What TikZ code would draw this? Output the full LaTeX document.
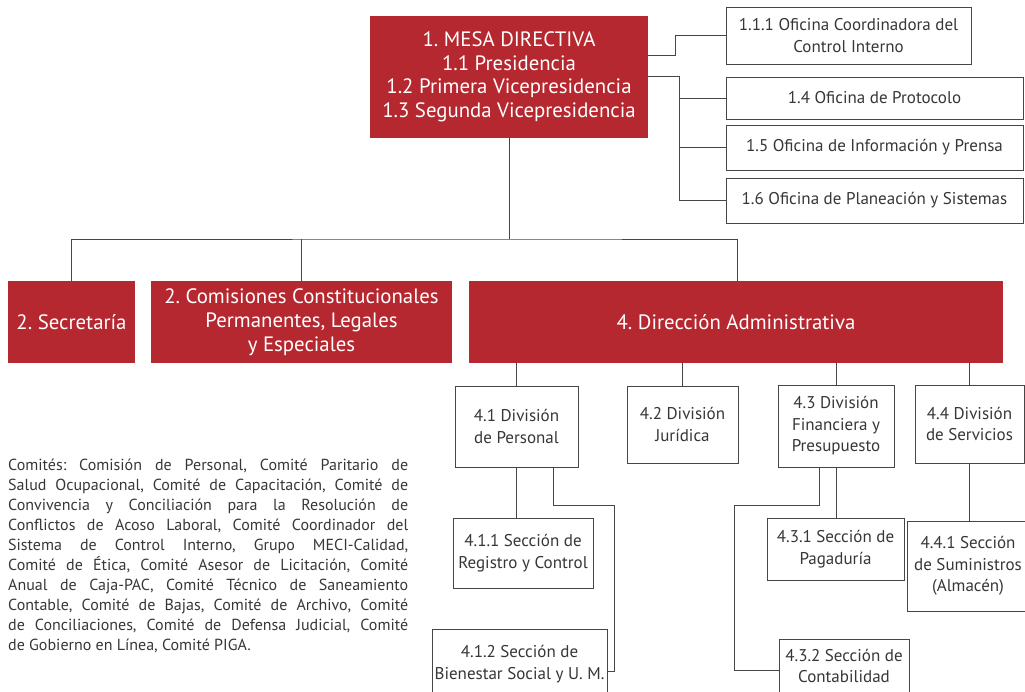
\documentclass[tikz,border=0pt]{standalone}
\usepackage{fontspec}
\setmainfont{PT Sans}
\usepackage{tikz}
\usetikzlibrary{positioning}

\definecolor{orgred}{RGB}{181,40,48}
\definecolor{linegray}{RGB}{70,70,70}
\definecolor{textgray}{RGB}{55,55,55}
\frenchspacing

\tikzset{
  redbox/.style={fill=orgred, text=white, inner sep=2pt, align=center,
    font=\fontsize{20.8}{24}\selectfont},
  whitebox/.style={draw=linegray, line width=0.9pt, fill=white, text=textgray,
    inner sep=2pt, align=center, font=\fontsize{17}{21.5}\selectfont},
  conn/.style={draw=linegray, line width=0.9pt},
  comites/.style={anchor=north west, inner sep=0pt, text width=400, align=justify,
    text=textgray, font=\fontsize{16}{20}\selectfont}
}

\begin{document}
\begin{tikzpicture}[x=1pt,y=-1pt]
\useasboundingbox (0,0) rectangle (1025,691);

% mesa directiva y oficinas
\node[redbox, minimum width=278, minimum height=122, font=\fontsize{20.8}{23.5}\selectfont] (mesa) at (509,77)
  {1. MESA DIRECTIVA\\1.1 Presidencia\\1.2 Primera Vicepresidencia\\1.3 Segunda Vicepresidencia};
\node[whitebox, minimum width=245, minimum height=57, font=\fontsize{17}{22}\selectfont] (ofcontrol) at (848.5,35.5)
  {1.1.1 Oficina Coordinadora del\\Control Interno};
\node[whitebox, minimum width=297, minimum height=42] (ofprot) at (874.5,98) {1.4 Oficina de Protocolo};
\node[whitebox, minimum width=297, minimum height=45] (ofinfo) at (874.5,147.5) {1.5 Oficina de Información y Prensa};
\node[whitebox, minimum width=297, minimum height=45] (ofplan) at (874.5,200.5) {1.6 Oficina de Planeación y Sistemas};

% segundo nivel
\node[redbox, minimum width=127, minimum height=82] (secret) at (71.5,322) {2. Secretaría};
\node[redbox, minimum width=301, minimum height=82] (comis) at (301.5,322)
  {2. Comisiones Constitucionales\\Permanentes, Legales\\y Especiales};
\node[redbox, minimum width=534, minimum height=82] (direcc) at (736,322) {4. Dirección Administrativa};

% divisiones
\node[whitebox, minimum width=123, minimum height=81] (divpers) at (516.5,426.5) {4.1 División\\de Personal};
\node[whitebox, minimum width=111, minimum height=77] (divjur) at (682.5,424.5) {4.2 División\\Jurídica};
\node[whitebox, minimum width=116, minimum height=82] (divfin) at (836,426) {4.3 División\\Financiera y\\Presupuesto};
\node[whitebox, minimum width=109, minimum height=78] (divserv) at (969.5,424) {4.4 División\\de Servicios};

% secciones
\node[whitebox, minimum width=140, minimum height=70] (secreg) at (523,553) {4.1.1 Sección de\\Registro y Control};
\node[whitebox, minimum width=175, minimum height=70] (secbien) at (519.5,664) {4.1.2 Sección de\\Bienestar Social y U. M.};
\node[whitebox, minimum width=137, minimum height=62] (secpag) at (835.5,549) {4.3.1 Sección de\\Pagaduría};
\node[whitebox, minimum width=130, minimum height=54] (seccont) at (844,666) {4.3.2 Sección de\\Contabilidad};
\node[whitebox, minimum width=122, minimum height=90] (secsum) at (968,566) {4.4.1 Sección\\de Suministros\\(Almacén)};

% comites
\node[comites] (comitlist) at (8,459) {Comités: Comisión de Personal, Comité Paritario de\linebreak
Salud Ocupacional, Comité de Capacitación, Comité de\linebreak
Convivencia y Conciliación para la Resolución de\linebreak
Conflictos de Acoso Laboral, Comité Coordinador del\linebreak
Sistema de Control Interno, Grupo MECI-Calidad,\linebreak
Comité de Ética, Comité Asesor de Licitación, Comité\linebreak
Anual de Caja-PAC, Comité Técnico de Saneamiento\linebreak
Contable, Comité de Bajas, Comité de Archivo, Comité\linebreak
de Conciliaciones, Comité de Defensa Judicial, Comité\linebreak
de Gobierno en Línea, Comité PIGA.};

% conectores
\coordinate (ofbus) at (679,76);
\coordinate (mainbus) at (509,239);
\coordinate (persbend) at (614,505);
\coordinate (finbend) at (734,505);
\draw[conn] ([yshift=22pt]mesa.east) -- ++(27,0) |- (ofcontrol.west);
\draw[conn] (mesa.east |- ofbus) -- (ofbus) |- (ofplan.west);
\draw[conn] (ofbus |- ofprot) -- (ofprot.west);
\draw[conn] (ofbus |- ofinfo) -- (ofinfo.west);
\draw[conn] (mesa.south) -- (mainbus);
\draw[conn] (secret.north) |- (mainbus) -| ([xshift=1pt]direcc.north);
\draw[conn] (comis.north) -- (comis.north |- mainbus);
\foreach \d in {divpers,divjur,divfin,divserv}
  \draw[conn] (\d.north) -- (\d.north |- direcc.south);
\draw[conn] (divpers.south) -- (divpers.south |- secreg.north);
\draw[conn] ([xshift=36.5pt]divpers.south) |- (persbend) |- ([yshift=-7pt]secbien.east);
\draw[conn] (divfin.south) -- (divfin.south |- secpag.north);
\draw[conn] ([xshift=-17pt]divfin.south) |- (finbend) |- ([yshift=-4pt]seccont.west);
\draw[conn] (divserv.south) -- (divserv.south |- secsum.north);
\end{tikzpicture}
\end{document}
